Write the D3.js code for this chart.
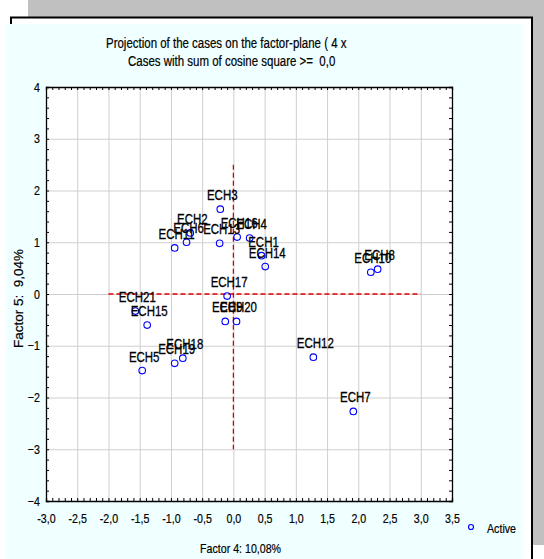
<!DOCTYPE html>
<html>
<head>
<meta charset="utf-8">
<script src="https://cdn.jsdelivr.net/npm/d3@7"></script>
<style>
    body { margin: 0; background: #ffffff; }
    svg { display: block; }
    text { font-family: "Liberation Sans", Arial, sans-serif; fill: #000; white-space: pre; }
</style>
</head>
<body>
<div id="chart"></div>
<script>

// cases and their coordinates on the factor plane
var cases = ["ECH1", "ECH2", "ECH3", "ECH4", "ECH5", "ECH6", "ECH7", "ECH8", "ECH9", "ECH10", "ECH11",
    "ECH12", "ECH13", "ECH14", "ECH15", "ECH16", "ECH17", "ECH18", "ECH19", "ECH20", "ECH21"];
var factor4 = [0.45, -0.69, -0.21, 0.26, -1.46, -0.75, 1.92, 2.31, -0.13, 2.20, -0.94,
    1.28, -0.22, 0.51, -1.38, 0.06, -0.10, -0.81, -0.94, 0.05, -1.57];
var factor5 = [0.74, 1.18, 1.64, 1.08, -1.48, 1.00, -2.27, 0.48, -0.53, 0.42, 0.89,
    -1.22, 0.98, 0.53, -0.60, 1.10, -0.04, -1.24, -1.34, -0.53, -0.33];

var xTicks = [-3, -2.5, -2, -1.5, -1, -0.5, 0, 0.5, 1, 1.5, 2, 2.5, 3, 3.5];
var yTicks = [-4, -3, -2, -1, 0, 1, 2, 3, 4];
var xRefLine = [-2, 3];
var yRefLine = [-3, 2.5];

var titleLines = ["Projection of the cases on the factor-plane ( 4 x", "Cases with sum of cosine square >=  0,0"];
var xTitle = "Factor 4: 10,08%";
var yTitle = "Factor 5:  9,04%";
var legendLabel = "Active";

var W = 544, H = 559;
var narrow = 0.82;   // squeeze Liberation Sans to look like Arial Narrow

var svg = d3.select("#chart").append("svg")
    .attr("width", W)
    .attr("height", H);

// window frame behind the chart
svg.append("rect").attr("x", 28).attr("y", 0).attr("width", W - 28).attr("height", 545).style("fill", "#c0c0c0");
svg.append("rect").attr("x", 11).attr("y", 17.5).attr("width", 521).attr("height", 560)
    .style("fill", "#ffffff").style("stroke", "#000").style("stroke-width", 2);
svg.append("rect").attr("x", 5).attr("y", 24).attr("width", 518).attr("height", H - 24).style("fill", "#f0ffff");

var x = d3.scaleLinear().domain([-3, 3.5]).range([46, 452]);
var y = d3.scaleLinear().domain([-4, 4]).range([501, 87]);

function fmt(d) {
    return d.toFixed(1).replace(".", ",");
}

function squeeze(sel) {
    sel.attr("transform", "scale(" + narrow + ",1)");
}

// plot area
svg.append("rect")
    .attr("x", x(-3)).attr("y", y(4))
    .attr("width", x(3.5) - x(-3)).attr("height", y(-4) - y(4))
    .style("fill", "#fff");

// grid
svg.selectAll(".vgrid").data(xTicks.slice(1, -1)).enter().append("line")
    .classed("vgrid", true)
    .attr("x1", function (d) { return x(d) + 0.5; })
    .attr("x2", function (d) { return x(d) + 0.5; })
    .attr("y1", y(4)).attr("y2", y(-4))
    .style("stroke", "#cfcfcf").style("stroke-width", 1);

svg.selectAll(".hgrid").data(yTicks.slice(1, -1)).enter().append("line")
    .classed("hgrid", true)
    .attr("x1", x(-3)).attr("x2", x(3.5))
    .attr("y1", function (d) { return y(d) + 0.5; })
    .attr("y2", function (d) { return y(d) + 0.5; })
    .style("stroke", "#cfcfcf").style("stroke-width", 1);

// minor ticks all round, pointing inward
var xMinor = d3.range(-30, 36).map(function (d) { return d / 10; });
var yMinor = d3.range(-20, 21).map(function (d) { return d / 5; });

svg.append("g").attr("transform", "translate(0," + y(-4) + ")")
    .call(d3.axisBottom(x).tickValues(xMinor).tickSize(-3).tickFormat(""));
svg.append("g").attr("transform", "translate(0," + y(4) + ")")
    .call(d3.axisTop(x).tickValues(xMinor).tickSize(-3).tickFormat(""));
svg.append("g").attr("transform", "translate(" + x(-3) + ",0)")
    .call(d3.axisLeft(y).tickValues(yMinor).tickSize(-3).tickFormat(""));
svg.append("g").attr("transform", "translate(" + x(3.5) + ",0)")
    .call(d3.axisRight(y).tickValues(yMinor).tickSize(-3).tickFormat(""));
svg.selectAll(".domain").style("stroke", "#000").style("stroke-width", 1.3);

// tick labels
var xAxis = svg.append("g").attr("transform", "translate(0," + y(-4) + ")")
    .call(d3.axisBottom(x).tickValues(xTicks).tickSize(0).tickPadding(13).tickFormat(fmt));
xAxis.select(".domain").remove();
xAxis.selectAll("text").style("font-size", "13px").style("font-family", null)
    .style("stroke", "#000").style("stroke-width", 0.2).call(squeeze);

var yAxis = svg.append("g").attr("transform", "translate(" + x(-3) + ",0)")
    .call(d3.axisLeft(y).tickValues(yTicks).tickSize(0).tickPadding(6 / narrow));
yAxis.select(".domain").remove();
yAxis.selectAll("text").style("font-size", "13px").style("font-family", null)
    .style("stroke", "#000").style("stroke-width", 0.2).call(squeeze);

// dashed reference lines through the origin
svg.append("line")
    .attr("x1", x(xRefLine[0])).attr("x2", x(xRefLine[1]))
    .attr("y1", y(0)).attr("y2", y(0))
    .style("stroke", "#e00000").style("stroke-width", 1.3).style("stroke-dasharray", "5,3");
svg.append("line")
    .attr("x1", x(0)).attr("x2", x(0))
    .attr("y1", y(yRefLine[1])).attr("y2", y(yRefLine[0]))
    .style("stroke", "#e00000").style("stroke-width", 1.3).style("stroke-dasharray", "5,3");

// points, then their labels on top
var idx = d3.range(cases.length);

svg.selectAll(".pt").data(idx).enter().append("circle")
    .classed("pt", true)
    .attr("cx", function (i) { return x(factor4[i]); })
    .attr("cy", function (i) { return y(factor5[i]); })
    .attr("r", 3.3)
    .style("fill", "none")
    .style("stroke", "#0000ff")
    .style("stroke-width", 1.1);

svg.selectAll(".lbl").data(idx).enter().append("text")
    .classed("lbl", true)
    .attr("transform", function (i) {
        return "translate(" + (x(factor4[i]) + 2) + "," + (y(factor5[i]) - 9) + ") scale(" + narrow + ",1)";
    })
    .style("font-size", "14px")
    .style("text-anchor", "middle")
    .style("stroke", "#000")
    .style("stroke-width", 0.3)
    .text(function (i) { return cases[i]; });

// titles
function label(txt, tx, ty, size, rot, sx) {
    svg.append("text")
        .attr("transform", "translate(" + tx + "," + ty + ")" + (rot ? " rotate(" + rot + ")" : "") + " scale(" + sx + ",1)")
        .style("font-size", size + "px")
        .style("stroke", "#000")
        .style("stroke-width", 0.2)
        .text(txt);
}

label(titleLines[0], 106, 48, 14, 0, narrow);
label(titleLines[1], 128, 66, 14, 0, narrow);
label(xTitle, 200, 553, 13, 0, narrow);
label(yTitle, 23, 348, 13.5, -90, 1);

// legend
svg.append("circle").attr("cx", 471).attr("cy", 527).attr("r", 2.5)
    .style("fill", "none").style("stroke", "#0000ff").style("stroke-width", 1.2);
label(legendLabel, 487, 533, 13, 0, narrow);

</script>
</body>
</html>
